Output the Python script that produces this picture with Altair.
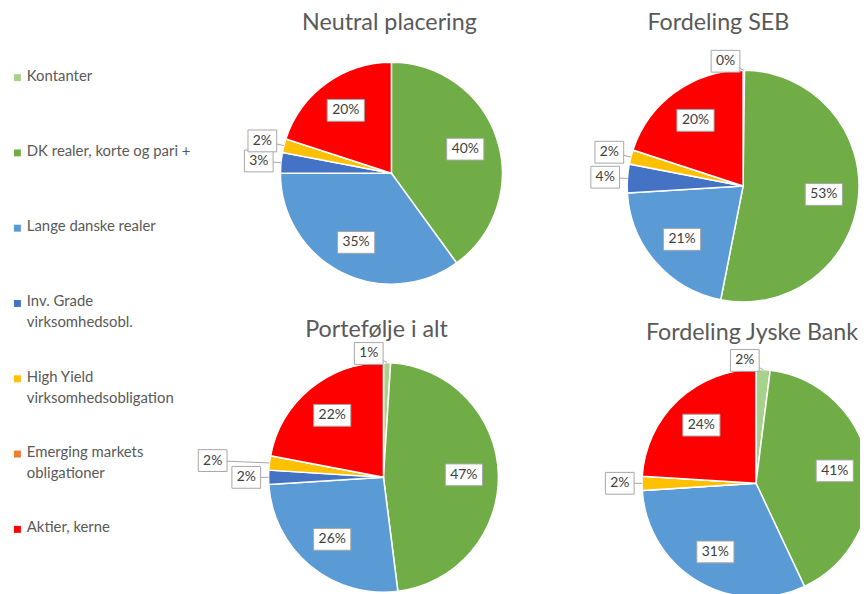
import altair as alt
import pandas as pd

# ---------------- data ----------------
categories = [
    "Kontanter",
    "DK realer, korte og pari +",
    "Lange danske realer",
    "Inv. Grade virksomhedsobl.",
    "High Yield virksomhedsobligationer",
    "Emerging markets obligationer",
    "Aktier, kerne",
]
legend_labels = [
    "Kontanter",
    "DK realer, korte og pari +",
    "Lange danske realer",
    "Inv. Grade\nvirksomhedsobl.",
    "High Yield\nvirksomhedsobligationer",
    "Emerging markets\nobligationer",
    "Aktier, kerne",
]
colors = ["#A9D18E", "#70AD47", "#5B9BD5", "#4472C4", "#FFC000", "#ED7D31", "#FF0000"]

titles = ["Neutral placering", "Fordeling SEB", "Portefølje i alt", "Fordeling Jyske Bank"]
neutral = [0, 40, 35, 3, 2, 0, 20]
seb = [0.2, 53, 21, 4, 2, 0, 20]
portefolje = [1, 47, 26, 2, 2, 0, 22]
jyske = [2, 41, 31, 0, 2, 0, 24]
series = [neutral, seb, portefolje, jyske]

# ---------------- layout (pixel positions of each pie) ----------------
layout = {  # title: (center x, center y, radius, title x, title y)
    "Neutral placering": (387, 164, 112, 385, 12),
    "Fordeling SEB": (742, 177, 117, 717, 12),
    "Portefølje i alt": (379, 471, 116, 372, 322),
    "Fordeling Jyske Bank": (755, 477, 115, 751, 325),
}

rows = []
for t, vals in zip(titles, series):
    for i, (c, v) in enumerate(zip(categories, vals)):
        rows.append({"chart": t, "idx": i, "cat": c, "value": v})
df = pd.DataFrame(rows)

FONT = "Lato"
GRAY = "#595959"
color_scale = alt.Scale(domain=categories, range=colors)

layers = []
for t in titles:
    cx, cy, R, tx, ty = layout[t]
    base = alt.Chart(df).transform_filter(alt.datum.chart == t)
    arc = base.mark_arc(radius=R, stroke="white", strokeWidth=1.5).encode(
        x=alt.value(cx),
        y=alt.value(cy),
        theta=alt.Theta("value:Q", stack=True),
        color=alt.Color("cat:N", scale=color_scale, legend=None),
        order=alt.Order("idx:Q", sort="ascending"),
    )
    lab = (
        base.transform_joinaggregate(total="sum(value)")
        .transform_window(cum="sum(value)", sort=[alt.SortField("idx")], frame=[None, 0])
        .transform_filter(alt.datum.value > 0)
        .transform_calculate(
            frac="datum.value / datum.total",
            mid="2 * PI * (datum.cum - datum.value / 2) / datum.total",
        )
        .transform_calculate(
            small="datum.frac < 0.1 ? 1 : 0",
            pct="format(datum.frac, '.0%')",
        )
        .transform_window(prevmid="lag(mid)", prevsmall="lag(small)", sort=[alt.SortField("idx")])
        .transform_calculate(
            dx="sin(datum.mid)",
            dy="-cos(datum.mid)",
            w="12 + 8.5 * length(datum.pct)",
            crowd="(datum.small == 1 && datum.prevsmall == 1 && (datum.mid - datum.prevmid) < 0.14) ? 1 : 0",
            top="(datum.small == 1 && -cos(datum.mid) < -0.95) ? 1 : 0",
        )
        .transform_calculate(
            lx=(
                f"datum.top == 1 ? {cx} + {R} * datum.dx - datum.w / 2 - 4 : "
                f"(datum.small == 1 ? {cx} + {R + 8} * datum.dx + datum.dx * datum.w / 2 - datum.crowd * (datum.w + 6) "
                f": {cx} + {0.7 * R} * datum.dx)"
            ),
            ly=(
                f"datum.top == 1 ? {cy - R - 9} : "
                f"(datum.small == 1 ? {cy} + {R + 8} * datum.dy + datum.dy * 11 : {cy} + {0.7 * R} * datum.dy)"
            ),
            ex=f"{cx} + {R} * datum.dx",
            ey=f"{cy} + {R} * datum.dy",
        )
        .transform_calculate(
            x0="datum.lx - datum.w / 2",
            x1="datum.lx + datum.w / 2",
            y0="datum.ly - 11",
            y1="datum.ly + 11",
        )
    )
    leader = lab.transform_filter(alt.datum.small == 1).mark_rule(color="#A6A6A6", strokeWidth=1).encode(
        x=alt.X("ex:Q", scale=None, axis=None),
        y=alt.Y("ey:Q", scale=None, axis=None),
        x2="lx:Q",
        y2="ly:Q",
    )
    box = lab.mark_rect(fill="white", stroke="#A6A6A6", strokeWidth=1).encode(
        x=alt.X("x0:Q", scale=None, axis=None),
        x2="x1:Q",
        y=alt.Y("y0:Q", scale=None, axis=None),
        y2="y1:Q",
    )
    txt = lab.mark_text(font=FONT, fontSize=14, color="#404040").encode(
        x=alt.X("lx:Q", scale=None, axis=None),
        y=alt.Y("ly:Q", scale=None, axis=None),
        text="pct:N",
    )
    layers += [arc, leader, box, txt]

title_df = pd.DataFrame(
    {"title": titles, "tx": [layout[t][3] for t in titles], "ty": [layout[t][4] for t in titles]}
)
title_layer = alt.Chart(title_df).mark_text(font=FONT, fontSize=23.5, color=GRAY, baseline="middle").encode(
    x=alt.X("tx:Q", scale=None, axis=None),
    y=alt.Y("ty:Q", scale=None, axis=None),
    text="title:N",
)

legend_df = pd.DataFrame({"cat": categories, "label": legend_labels, "idx": list(range(len(categories)))})
leg_base = alt.Chart(legend_df).transform_calculate(ly="67.5 + 76 * datum.idx", ty="datum.ly - 9")
leg_sq = leg_base.mark_square(size=49, opacity=1).encode(
    x=alt.value(9.5),
    y=alt.Y("ly:Q", scale=None, axis=None),
    color=alt.Color("cat:N", scale=color_scale, legend=None),
)
leg_style = dict(font=FONT, fontSize=15, color=GRAY, align="left", baseline="top", lineBreak="\n", lineHeight=21)
leg_enc = dict(x=alt.value(19), y=alt.Y("ty:Q", scale=None, axis=None), text="label:N")
# the legend box of the original clips the longest label
leg_txt = leg_base.transform_filter(alt.datum.idx != 4).mark_text(**leg_style).encode(**leg_enc)
leg_txt_clip = leg_base.transform_filter(alt.datum.idx == 4).mark_text(
    **leg_style, limit=156, ellipsis="\u200b"
).encode(**leg_enc)

chart = (
    alt.layer(*layers, title_layer, leg_sq, leg_txt, leg_txt_clip)
    .resolve_scale(theta="independent")
    .properties(width=860, height=586, autosize=alt.AutoSizeParams(type="none"), padding=0, background="white")
    .configure_view(strokeWidth=0)
)

chart.save("out.html", embed_options={"renderer": "svg", "actions": False})
